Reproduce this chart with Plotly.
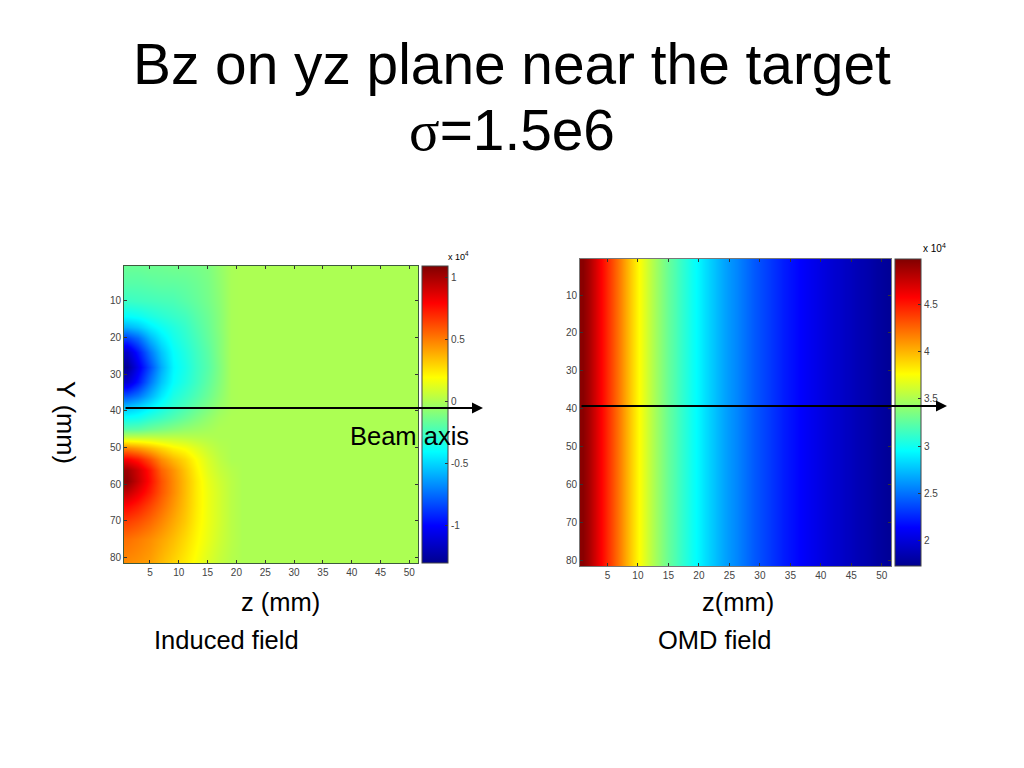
import plotly.graph_objects as go

W, H = 1024, 768

jet = [[0.0, "#00008f"], [0.125, "#0000ff"], [0.375, "#00ffff"],
       [0.625, "#ffff00"], [0.875, "#ff0000"], [1.0, "#800000"]]

# Induced field (units of 1e4), read at these z columns and y rows
ind_z = [1, 3, 5, 7, 9, 11, 13, 15, 17, 19, 21, 24, 51]
ind_y = [1, 5, 10, 14, 17, 20, 24, 28, 32, 36, 39, 42, 45, 47, 50, 53, 56, 59, 62, 66, 70, 75, 81]
ind_values = [
    [-0.16, -0.16, -0.15, -0.15, -0.14, -0.14, -0.13, -0.11, -0.06, -0.01, 0, 0, 0],
    [-0.20, -0.20, -0.19, -0.18, -0.18, -0.17, -0.15, -0.12, -0.07, -0.01, 0, 0, 0],
    [-0.27, -0.26, -0.25, -0.24, -0.23, -0.20, -0.17, -0.13, -0.08, -0.01, 0, 0, 0],
    [-0.40, -0.38, -0.34, -0.31, -0.28, -0.25, -0.20, -0.15, -0.09, -0.01, 0, 0, 0],
    [-0.58, -0.53, -0.44, -0.38, -0.33, -0.28, -0.22, -0.16, -0.09, -0.01, 0, 0, 0],
    [-0.85, -0.75, -0.57, -0.45, -0.36, -0.30, -0.24, -0.17, -0.10, -0.01, 0, 0, 0],
    [-1.14, -0.95, -0.72, -0.54, -0.40, -0.33, -0.26, -0.19, -0.10, -0.01, 0, 0, 0],
    [-1.28, -1.05, -0.82, -0.60, -0.42, -0.35, -0.27, -0.20, -0.11, -0.01, 0, 0, 0],
    [-1.12, -0.95, -0.72, -0.54, -0.40, -0.33, -0.26, -0.18, -0.10, -0.01, 0, 0, 0],
    [-0.80, -0.72, -0.58, -0.45, -0.34, -0.28, -0.22, -0.15, -0.08, -0.01, 0, 0, 0],
    [-0.55, -0.50, -0.43, -0.36, -0.29, -0.23, -0.17, -0.11, -0.05, -0.01, 0, 0, 0],
    [-0.38, -0.36, -0.30, -0.26, -0.21, -0.16, -0.11, -0.06, -0.02, 0, 0, 0, 0],
    [-0.20, -0.19, -0.15, -0.12, -0.09, -0.06, -0.04, -0.02, 0, 0, 0, 0, 0],
    [0.05, 0.05, 0.05, 0.04, 0.04, 0.03, 0.02, 0.01, 0, 0, 0, 0, 0],
    [0.48, 0.43, 0.36, 0.29, 0.22, 0.18, 0.12, 0.06, 0.02, 0, 0, 0, 0],
    [0.80, 0.73, 0.60, 0.46, 0.36, 0.28, 0.19, 0.10, 0.04, 0, 0, 0, 0],
    [1.02, 0.90, 0.74, 0.56, 0.45, 0.33, 0.22, 0.12, 0.06, 0.02, 0, 0, 0],
    [1.06, 0.92, 0.76, 0.60, 0.47, 0.35, 0.24, 0.14, 0.08, 0.03, 0, 0, 0],
    [0.94, 0.84, 0.72, 0.59, 0.47, 0.35, 0.24, 0.15, 0.09, 0.03, 0, 0, 0],
    [0.78, 0.72, 0.63, 0.54, 0.44, 0.34, 0.24, 0.15, 0.09, 0.03, 0, 0, 0],
    [0.65, 0.61, 0.55, 0.48, 0.40, 0.32, 0.23, 0.15, 0.09, 0.03, 0, 0, 0],
    [0.53, 0.50, 0.46, 0.41, 0.35, 0.28, 0.21, 0.14, 0.08, 0.03, 0, 0, 0],
    [0.47, 0.45, 0.42, 0.36, 0.30, 0.24, 0.18, 0.11, 0.06, 0.02, 0, 0, 0],
]

# OMD field (units of 1e4): one value per z column, the same on every y row
omd_z = list(range(1, 52))
omd_y = list(range(1, 82))
omd_column = [4.95, 4.85, 4.72, 4.58, 4.45, 4.30, 4.17, 4.03, 3.90, 3.78,
              3.67, 3.56, 3.46, 3.37, 3.28, 3.20, 3.12, 3.05, 2.98, 2.92,
              2.85, 2.79, 2.73, 2.67, 2.62, 2.57, 2.52, 2.47, 2.42, 2.38,
              2.34, 2.30, 2.26, 2.22, 2.19, 2.16, 2.12, 2.09, 2.06, 2.03,
              2.00, 1.97, 1.95, 1.92, 1.90, 1.87, 1.85, 1.83, 1.80, 1.78, 1.76]
omd_values = [omd_column for _ in omd_y]

z_ticks = [5, 10, 15, 20, 25, 30, 35, 40, 45, 50]
y_ticks = [10, 20, 30, 40, 50, 60, 70, 80]
ind_cb_ticks = [-1, -0.5, 0, 0.5, 1]
ind_cb_text = ["-1", "-0.5", "0", "0.5", "1"]
omd_cb_ticks = [2, 2.5, 3, 3.5, 4, 4.5]
omd_cb_text = ["2", "2.5", "3", "3.5", "4", "4.5"]

TICK = dict(family="Liberation Sans", size=10, color="#444444")
TXT = "Liberation Sans"


def px(v):
    return v / W


def py(v):
    return 1 - v / H


def colorbar(x0, y0, y1, vals, text):
    return dict(x=px(x0), xanchor="left", xpad=0, y=py(y1), yanchor="bottom", ypad=0,
                thickness=26, thicknessmode="pixels", len=y1 - y0, lenmode="pixels",
                tickmode="array", tickvals=vals, ticktext=text, ticks="inside", ticklen=3,
                tickcolor="#333333", tickfont=TICK, outlinecolor="#444444", outlinewidth=1,
                borderwidth=0)


fig = go.Figure()
fig.add_trace(go.Heatmap(x=ind_z, y=ind_y, z=ind_values, zsmooth="best", colorscale=jet,
                         zmin=-1.30, zmax=1.09, xaxis="x", yaxis="y",
                         colorbar=colorbar(422, 266, 563, ind_cb_ticks, ind_cb_text)))
fig.add_trace(go.Heatmap(x=omd_z, y=omd_y, z=omd_values, zsmooth="best", colorscale=jet,
                         zmin=1.73, zmax=4.98, xaxis="x2", yaxis="y2",
                         colorbar=colorbar(895, 259, 566, omd_cb_ticks, omd_cb_text)))


def xaxis(x0, x1, anchor, line):
    return dict(domain=[px(x0), px(x1)], range=[0.5, 51.5], anchor=anchor, tickvals=z_ticks,
                ticks="inside", ticklen=3, mirror="ticks", showline=True, linecolor=line,
                tickcolor="#333333", linewidth=1, showgrid=False, zeroline=False, tickfont=TICK)


def yaxis(y0, y1, anchor, line):
    return dict(domain=[py(y1), py(y0)], range=[81.5, 0.5], anchor=anchor, tickvals=y_ticks,
                ticks="inside", ticklen=3, mirror="ticks", showline=True, linecolor=line,
                tickcolor="#333333", linewidth=1, showgrid=False, zeroline=False, tickfont=TICK)


def label(x, y, text, size, angle=0):
    return dict(xref="paper", yref="paper", x=px(x), y=py(y), text=text, showarrow=False,
                xanchor="center", yanchor="middle", textangle=angle,
                font=dict(family=TXT, size=size, color="#000000"))


def arrow(x0, x1, y):
    return dict(xref="paper", yref="paper", axref="pixel", ayref="pixel", x=px(x1), y=py(y),
                ax=x0 - x1, ay=0, text="", showarrow=True, arrowhead=2, arrowsize=1.1,
                arrowwidth=2, arrowcolor="#000000")


annotations = [
    label(512, 64, "Bz on yz plane near the target", 56.8),
    label(512, 130, '<span style="font-family:\'Liberation Serif\'">σ</span>=1.5e6', 56.8),
    label(66, 422, "Y (mm)", 25.5, 90),
    label(280, 602, "z (mm)", 25.5),
    label(738, 602, "z(mm)", 25.5),
    label(226, 640, "Induced field", 25.5),
    label(714, 640, "OMD field", 25.5),
    label(409, 436, "Beam axis", 25.5),
    label(458, 256, "x 10<sup>4</sup>", 9),
    label(934, 248, "x 10<sup>4</sup>", 10),
    arrow(124, 483, 408),
    arrow(580, 947, 406),
]

fig.update_layout(
    width=W, height=H, margin=dict(l=0, r=0, t=0, b=0), showlegend=False,
    paper_bgcolor="white", plot_bgcolor="white",
    xaxis=xaxis(124, 418, "y", "#3d5a3d"), yaxis=yaxis(266, 563, "x", "#3d5a3d"),
    xaxis2=xaxis(580, 891, "y2", "#777777"), yaxis2=yaxis(259, 566, "x2", "#777777"),
    annotations=annotations,
)

fig.write_html("out.html", post_script="document.body.style.margin='0';",
               config={"displayModeBar": False})
